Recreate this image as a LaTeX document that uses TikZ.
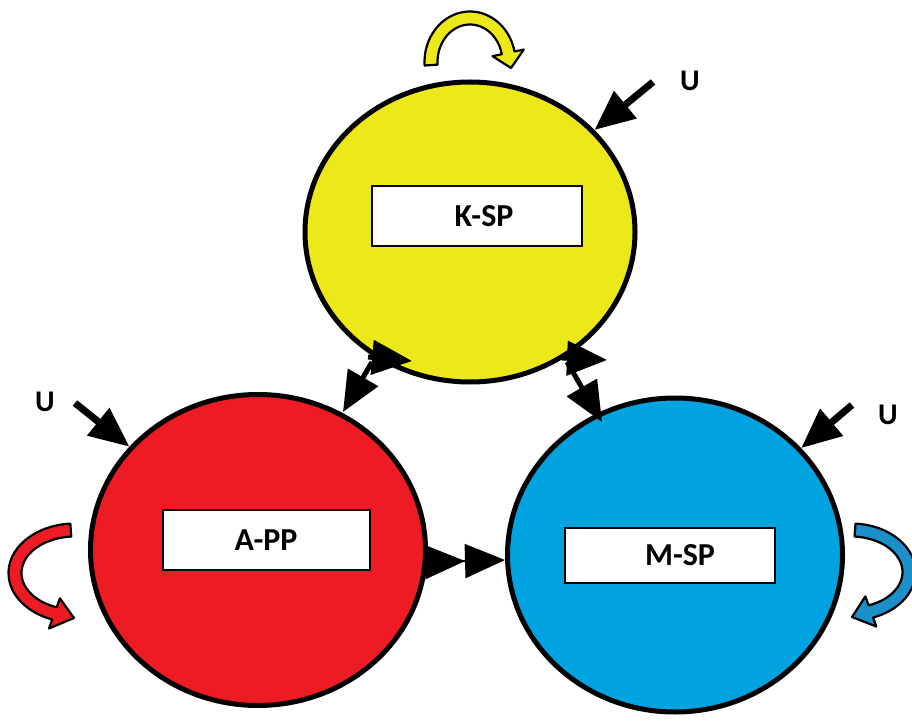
\documentclass[tikz,border=0pt]{standalone}
\usepackage{fontspec}
\setmainfont{Carlito}
\usetikzlibrary{shapes.geometric,arrows.meta,calc}

\definecolor{kyellow}{HTML}{EDE81A}
\definecolor{ared}{HTML}{ED1C24}
\definecolor{mblue}{HTML}{00A2DF}
\definecolor{mbluedark}{HTML}{1A8FC8}

% half widths of the curled arrow band and of its head
\def\bandw{6.5}
\def\headw{16}

% curled self-loop arrow: #1 fill, #2 centre, #3 x radius, #4 y radius,
% #5 start angle, #6 end angle, #7 tip point
\newcommand{\bandarrow}[7]{%
  \filldraw[loopband, fill=#1]
    ($(#2)+(#5:{#3+\bandw} and {#4+\bandw})$)
    arc[start angle=#5, end angle=#6, x radius={#3+\bandw}, y radius={#4+\bandw}]
    -- ($(#2)+(#6:{#3+\headw} and {#4+\headw})$)
    -- (#7)
    -- ($(#2)+(#6:{#3-\headw} and {#4-\headw})$)
    -- ($(#2)+(#6:{#3-\bandw} and {#4-\bandw})$)
    arc[start angle=#6, end angle=#5, x radius={#3-\bandw}, y radius={#4-\bandw}]
    -- cycle;}

\begin{document}
\begin{tikzpicture}[x=1pt, y=1pt,
  phase/.style={ellipse, draw=black, line width=5pt, inner sep=0pt},
  tagbox/.style={rectangle, draw=black, fill=white, line width=2pt, inner sep=0pt,
    font=\fontsize{32}{38}\selectfont\bfseries},
  ulabel/.style={font=\fontsize{30}{36}\selectfont\bfseries, inner sep=0pt},
  loopband/.style={draw=black, line width=2.2pt, line join=round},
  bigarrow/.style={line width=7pt, -{Triangle[length=40pt, width=34pt]}},
  dblarrow/.style={line width=2pt, -{Triangle[length=40pt, width=34pt]Triangle[length=40pt, width=34pt]}}
]
\useasboundingbox (0,0) rectangle (912,721);

% the three phases
\node[phase, fill=kyellow, minimum width=330, minimum height=300] (kspc) at (470,489) {};
\node[phase, fill=ared,    minimum width=335, minimum height=311] (appc) at (258,171) {};
\node[phase, fill=mblue,   minimum width=335, minimum height=314] (mspc) at (675,166) {};

% labels inside the phases
\node[tagbox, minimum width=210, minimum height=60] (ksp) at (477,505) {\hspace{14pt}K-SP};
\node[tagbox, minimum width=207, minimum height=60] (app) at (266,181) {A-PP\hspace{16pt}};
\node[tagbox, minimum width=210, minimum height=55] (msp) at (670,166) {\hspace{20pt}M-SP};

% self-loops
\bandarrow{kyellow}{470,659}{39}{44}{184}{12}{511,653}
\bandarrow{ared}{75,148}{60}{43}{94}{250}{74,103}
\bandarrow{mbluedark}{851,149}{58}{42}{86}{-70}{852,104}

% external inputs U
\coordinate (uk) at (653,639);
\coordinate (ua) at (75,318);
\coordinate (um) at (852,316);
\node[ulabel] (ukl) at (690,640) {U};
\node[ulabel] (ual) at (45,319) {U};
\node[ulabel] (uml) at (888,306) {U};
\draw[bigarrow] (uk) -- (kspc);
\draw[bigarrow] (ua) -- (appc);
\draw[bigarrow] (um) -- (mspc);

% exchanges between K-SP and A-PP
\coordinate (kaTop0) at (368,364);
\coordinate (kaTop1) at (412,360);
\coordinate (kaLow0) at (372,359);
\coordinate (kaLow1) at (343,309);
\draw[bigarrow, line width=5pt] (kaLow0) -- (kaLow1);
\draw[bigarrow, line width=5pt] (kaTop0) -- (kaTop1);

% exchanges between K-SP and M-SP
\coordinate (kmTop0) at (562,363);
\coordinate (kmTop1) at (607,361);
\coordinate (kmLow0) at (567,359);
\coordinate (kmLow1) at (602,299);
\draw[bigarrow, line width=5pt] (kmLow0) -- (kmLow1);
\draw[bigarrow, line width=5pt] (kmTop0) -- (kmTop1);

% transfer from A-PP to M-SP
\draw[dblarrow] ([yshift=-12pt]appc.east) -- ([yshift=-5pt]mspc.west);
\end{tikzpicture}
\end{document}
